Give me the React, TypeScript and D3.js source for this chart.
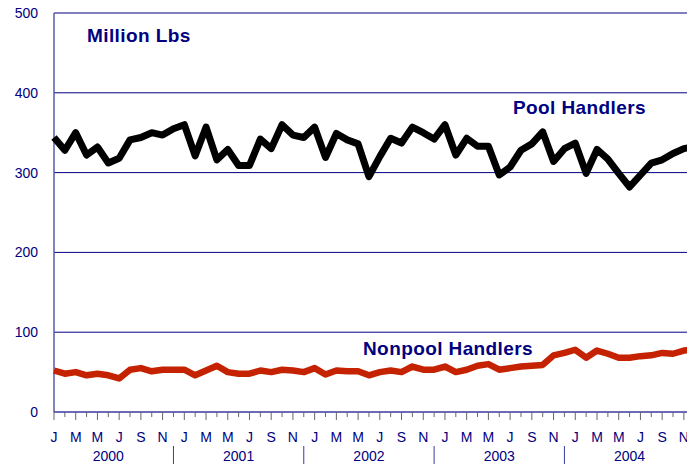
import React from "react";
import * as d3 from "d3";

const YEARS = ["2000", "2001", "2002", "2003", "2004"];
const MONTH_LETTERS = ["J", "F", "M", "A", "M", "J", "J", "A", "S", "O", "N", "D"];
const LABELED_MONTHS = [0, 2, 4, 6, 8, 10];
const Y_TICKS = [0, 100, 200, 300, 400, 500];

const POOL = [
  344, 328, 350, 322, 332, 312, 318, 341, 344, 350, 347, 355,
  360, 321, 357, 316, 329, 309, 309, 342, 330, 360, 347, 344,
  357, 319, 349, 341, 336, 295, 320, 343, 337, 357, 350, 342,
  360, 322, 343, 333, 333, 297, 307, 328, 336, 351, 314, 330,
  337, 299, 329, 317, 299, 282, 297, 312, 316, 324, 330, 333,
];

const NONPOOL = [
  52, 48, 50, 46, 48, 46, 42, 53, 55, 51, 53, 53,
  53, 46, 52, 58, 50, 48, 48, 52, 50, 53, 52, 50,
  55, 47, 52, 51, 51, 46, 50, 52, 50, 57, 53, 53,
  57, 50, 53, 58, 60, 53, 55, 57, 58, 59, 71, 74,
  78, 68, 77, 73, 68, 68, 70, 71, 74, 73, 77, 78,
];

const W = 687;
const H = 464;
const navy = "#000080";

export default function App() {
  const n = POOL.length;
  const idx = d3.range(n);
  const x = d3.scaleLinear().domain([0, n - 1]).range([54, 54 + (n - 1) * 10.86]);
  const y = d3.scaleLinear().domain([0, 500]).range([412, 13]);
  const line = d3
    .line<number>()
    .x((_, i) => x(i))
    .y((d) => y(d));

  return (
    <svg
      width={W}
      height={H}
      style={{ position: "fixed", left: 0, top: 0, background: "#fff" }}
      fontFamily="'Liberation Sans', Arial, sans-serif"
    >
      <defs>
        <clipPath id="plotclip">
          <rect x={0} y={0} width={W} height={H} />
        </clipPath>
      </defs>
      {Y_TICKS.filter((t) => t > 0).map((t) => (
        <line key={t} x1={54} x2={W} y1={y(t)} y2={y(t)} stroke={navy} strokeWidth={1} />
      ))}
      <line x1={54} x2={54} y1={y(500)} y2={y(0)} stroke="#5a5aa8" strokeWidth={1.5} />
      {Y_TICKS.map((t) => (
        <text key={t} x={38} y={y(t)} dy="0.35em" textAnchor="end" fontSize={14} fill={navy}>
          {t}
        </text>
      ))}
      <line x1={54} x2={W} y1={y(0)} y2={y(0)} stroke="#3a3aa0" strokeWidth={1.5} />
      {idx.map((i) => {
        const long = LABELED_MONTHS.includes(i % 12);
        return (
          <line
            key={i}
            x1={x(i)}
            x2={x(i)}
            y1={y(0)}
            y2={y(0) + (long ? 8 : 5)}
            stroke="#666"
            strokeWidth={1}
          />
        );
      })}
      {idx
        .filter((i) => LABELED_MONTHS.includes(i % 12))
        .map((i) => (
          <text key={i} x={x(i)} y={437} dy="0.35em" textAnchor="middle" fontSize={14} fill={navy}>
            {MONTH_LETTERS[i % 12]}
          </text>
        ))}
      {YEARS.map((yr, k) => {
        const b = x(k * 12 + 11);
        return (
          <g key={yr}>
            <text x={(x(k * 12) + x(k * 12 + 10)) / 2} y={456} dy="0.35em" textAnchor="middle" fontSize={14} fill={navy}>
              {yr}
            </text>
            {k < YEARS.length - 1 && (
              <line x1={b} x2={b} y1={446} y2={H} stroke="#3a3aa0" strokeWidth={1} />
            )}
          </g>
        );
      })}
      <g clipPath="url(#plotclip)">
        <path d={line(POOL) || ""} fill="none" stroke="#000" strokeWidth={7} strokeLinejoin="round" />
        <path d={line(NONPOOL) || ""} fill="none" stroke="#c42200" strokeWidth={6.5} strokeLinejoin="round" />
      </g>
      <text x={87} y={35} dy="0.35em" fontSize={19} letterSpacing={0.4} fontWeight="bold" fill={navy}>
        Million Lbs
      </text>
      <text x={513} y={107} dy="0.35em" fontSize={19} letterSpacing={0.4} fontWeight="bold" fill={navy}>
        Pool Handlers
      </text>
      <text x={363} y={348} dy="0.35em" fontSize={19} letterSpacing={0.4} fontWeight="bold" fill={navy}>
        Nonpool Handlers
      </text>
    </svg>
  );
}
